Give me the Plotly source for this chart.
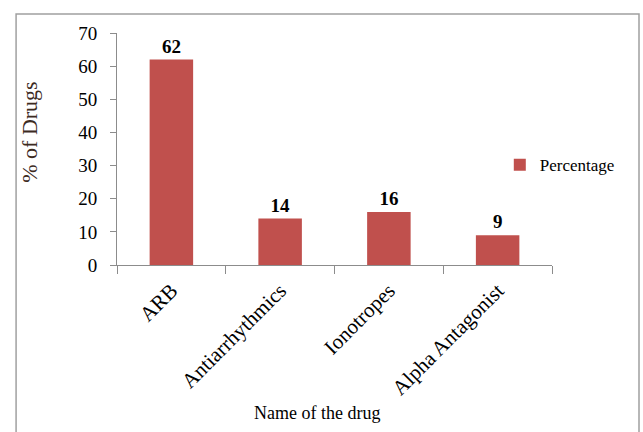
import plotly.graph_objects as go

# Drug classes and their share of prescriptions
drug_names = ["ARB", "Antiarrhythmics", "Ionotropes", "Alpha Antagonist"]
percentages = [62, 14, 16, 9]
y_ticks = [0, 10, 20, 30, 40, 50, 60, 70]

BAR_COLOR = "#C0504D"
AXIS_COLOR = "#8c8c8c"
FONT = "Liberation Serif, Times New Roman, serif"

fig = go.Figure(
    go.Bar(
        x=drug_names,
        y=percentages,
        name="Percentage",
        marker=dict(color=BAR_COLOR, line=dict(width=0)),
        text=percentages,
        texttemplate="<b>%{text}</b>",
        textposition="outside",
        textfont=dict(family=FONT, size=19, color="black"),
        cliponaxis=False,
        showlegend=True,
    )
)

fig.update_layout(
    width=643,
    height=432,
    margin=dict(l=117, r=91, t=33, b=167),
    paper_bgcolor="white",
    plot_bgcolor="white",
    bargap=0.6,
    font=dict(family=FONT, size=18, color="black"),
    legend=dict(
        x=0.88, y=0.43, xanchor="left", yanchor="middle",
        font=dict(family=FONT, size=17, color="black"),
        bgcolor="rgba(0,0,0,0)",
        itemwidth=30,
    ),
    xaxis=dict(
        type="category",
        tickangle=-45,
        tickson="boundaries",
        ticks="outside",
        ticklen=8,
        tickcolor=AXIS_COLOR,
        showline=True,
        linecolor=AXIS_COLOR,
        linewidth=1,
        showgrid=False,
        ticklabelstandoff=4,
        tickfont=dict(family=FONT, size=21, color="black"),
    ),
    yaxis=dict(
        range=[0, 70],
        tickvals=y_ticks,
        ticks="outside",
        ticklen=6,
        tickcolor=AXIS_COLOR,
        showline=True,
        linecolor=AXIS_COLOR,
        linewidth=1,
        showgrid=False,
        zeroline=False,
        ticklabelstandoff=9,
        tickfont=dict(family=FONT, size=19, color="black"),
    ),
    annotations=[
        dict(
            text="Name of the drug", xref="paper", yref="paper",
            x=0.46, y=-0.64, xanchor="center", yanchor="middle",
            showarrow=False, font=dict(family=FONT, size=18, color="black"),
        ),
        dict(
            text="% of Drugs", xref="paper", yref="paper",
            x=-0.2, y=0.57, xanchor="center", yanchor="middle",
            textangle=-90, showarrow=False,
            font=dict(family=FONT, size=22, color="#3d2b1f"),
        ),
    ],
    shapes=[
        dict(
            type="rect", xref="paper", yref="paper",
            x0=-0.232, x1=1.2, y0=-0.8, y1=1.082,
            line=dict(color="#a0a0a0", width=1.5),
            fillcolor="rgba(0,0,0,0)", layer="below",
        )
    ],
)

fig.write_html("out.html")
